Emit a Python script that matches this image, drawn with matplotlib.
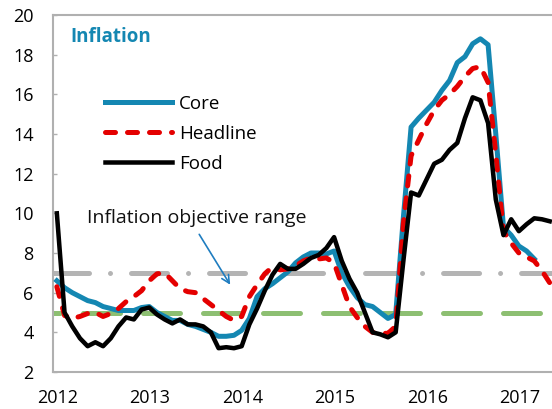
import matplotlib
matplotlib.use("Agg")
import matplotlib.pyplot as plt
import numpy as np

plt.rcParams['font.family'] = ['Open Sans', 'DejaVu Sans']
plt.rcParams['lines.scale_dashes'] = False

# Monthly data, Jan 2012 onward (month index 0 = Jan 2012)
core = [6.6, 6.25, 6.0, 5.8, 5.6, 5.5, 5.3, 5.2, 5.1, 5.1, 5.1, 5.25,
        5.3, 5.0, 4.8, 4.6, 4.6, 4.4, 4.3, 4.15, 4.0, 3.8, 3.8, 3.85,
        4.1, 4.7, 5.8, 6.2, 6.45, 6.75, 7.05, 7.5, 7.8, 8.0, 8.0, 7.95,
        8.1, 7.0, 6.3, 5.75, 5.4, 5.3, 5.0, 4.7, 4.9, 9.8, 14.35, 14.8,
        15.2, 15.6, 16.2, 16.7, 17.6, 17.9, 18.55, 18.8, 18.5, 14.0, 9.3, 8.9,
        8.35, 8.1, 7.7]
headline = [6.3, 4.85, 4.7, 4.8, 4.95, 5.0, 4.8, 4.95, 5.2, 5.55, 5.8, 6.1,
            6.6, 6.95, 7.0, 6.6, 6.2, 6.05, 6.0, 5.7, 5.4, 5.1, 4.8, 4.6,
            4.8, 5.8, 6.4, 6.95, 7.3, 7.15, 7.2, 7.35, 7.6, 7.75, 7.7, 7.75,
            7.5, 6.4, 5.3, 4.75, 4.3, 4.0, 3.95, 3.95, 4.3, 9.5, 12.9, 13.7,
            14.5, 15.2, 15.7, 16.0, 16.4, 16.9, 17.3, 17.4, 16.6, 13.0, 9.1, 8.5,
            8.0, 7.8, 7.6, 7.1, 6.5]
food = [10.0, 5.0, 4.3, 3.7, 3.3, 3.5, 3.3, 3.7, 4.3, 4.75, 4.65, 5.15,
        5.25, 4.9, 4.65, 4.45, 4.65, 4.4, 4.4, 4.3, 4.0, 3.2, 3.25, 3.2,
        3.3, 4.4, 5.2, 6.1, 6.9, 7.45, 7.2, 7.2, 7.45, 7.75, 7.9, 8.25,
        8.8, 7.6, 6.7, 6.0, 5.0, 4.0, 3.9, 3.75, 4.0, 7.6, 11.05, 10.9,
        11.7, 12.5, 12.7, 13.2, 13.55, 14.8, 15.85, 15.7, 14.55, 10.7, 8.9, 9.7,
        9.1, 9.45, 9.75, 9.7, 9.6]
objective_low = 5
objective_high = 7
year_labels = ['2012', '2013', '2014', '2015', '2016', '2017']
y_ticks = [2, 4, 6, 8, 10, 12, 14, 16, 18, 20]

BLUE = '#1487B2'
RED = '#E40000'
GREEN = '#8DBF72'
GRAY = '#B4B4B4'
SPINE = '#B0B0B0'
FS_TICK = 13
FS = 13.5
PX = 0.72  # points per pixel at dpi 100

fig = plt.figure(figsize=(5.52, 4.09), dpi=100)
ax = fig.add_axes([53/552, 1 - 372/409, 1 - 53/552, (372 - 15)/409])

# objective range lines
l_hi = ax.axhline(objective_high, color=GRAY, lw=5*PX, zorder=1,
                  dash_capstyle='round')
l_hi.set_linestyle((0, (36*PX, 21*PX, 0.01, 21*PX)))
l_lo = ax.axhline(objective_low, color=GREEN, lw=5*PX, zorder=1,
                  dash_capstyle='round')
l_lo.set_linestyle((30*PX, (37*PX, 23*PX)))

x_core = np.arange(len(core))
x_head = np.arange(len(headline))
x_food = np.arange(len(food))

h_core, = ax.plot(x_core, core, color=BLUE, lw=5*PX, zorder=3,
                  solid_joinstyle='round', label='Core')
h_head, = ax.plot(x_head, headline, color=RED, lw=5*PX, zorder=4,
                  dash_capstyle='round', dash_joinstyle='round', label='Headline')
h_head.set_linestyle((0, (10*PX, 12*PX)))
h_food, = ax.plot(x_food, food, color='black', lw=4.5*PX, zorder=5,
                  solid_joinstyle='round', label='Food')

ax.set_xlim(-0.5, 64.3)
ax.set_ylim(2, 20)
ax.set_yticks(y_ticks)
ax.set_xticks([12*i + 0.1 for i in range(len(year_labels))])
ax.set_xticklabels(year_labels)

ax.tick_params(axis='y', direction='in', length=3, width=1, color=SPINE,
               labelsize=FS_TICK, pad=14)
ax.tick_params(axis='x', length=0, labelsize=FS_TICK, pad=12)
for s in ['left', 'top', 'bottom']:
    ax.spines[s].set_color(SPINE)
    ax.spines[s].set_linewidth(1.5)
ax.spines['right'].set_visible(False)

ax.text(0.034, 0.938, 'Inflation', transform=ax.transAxes, color=BLUE,
        fontsize=FS, fontweight='bold', va='center', ha='left')

leg = ax.legend(handles=[h_core, h_head, h_food], loc='upper left',
                bbox_to_anchor=(0.104, 0.777), frameon=False, fontsize=FS,
                handlelength=3.57, handletextpad=0.37, labelspacing=0.65,
                borderpad=0, borderaxespad=0)

ax.text(3.9, 9.76, 'Inflation objective range', fontsize=14, va='center',
        ha='left', color='#111111')
ax.annotate('', xy=(22.7, 6.28), xytext=(18.3, 9.06),
            arrowprops=dict(arrowstyle='->', color='#1F7DC0', lw=1.2,
                            mutation_scale=14))

fig.savefig('out.png', dpi=100)
